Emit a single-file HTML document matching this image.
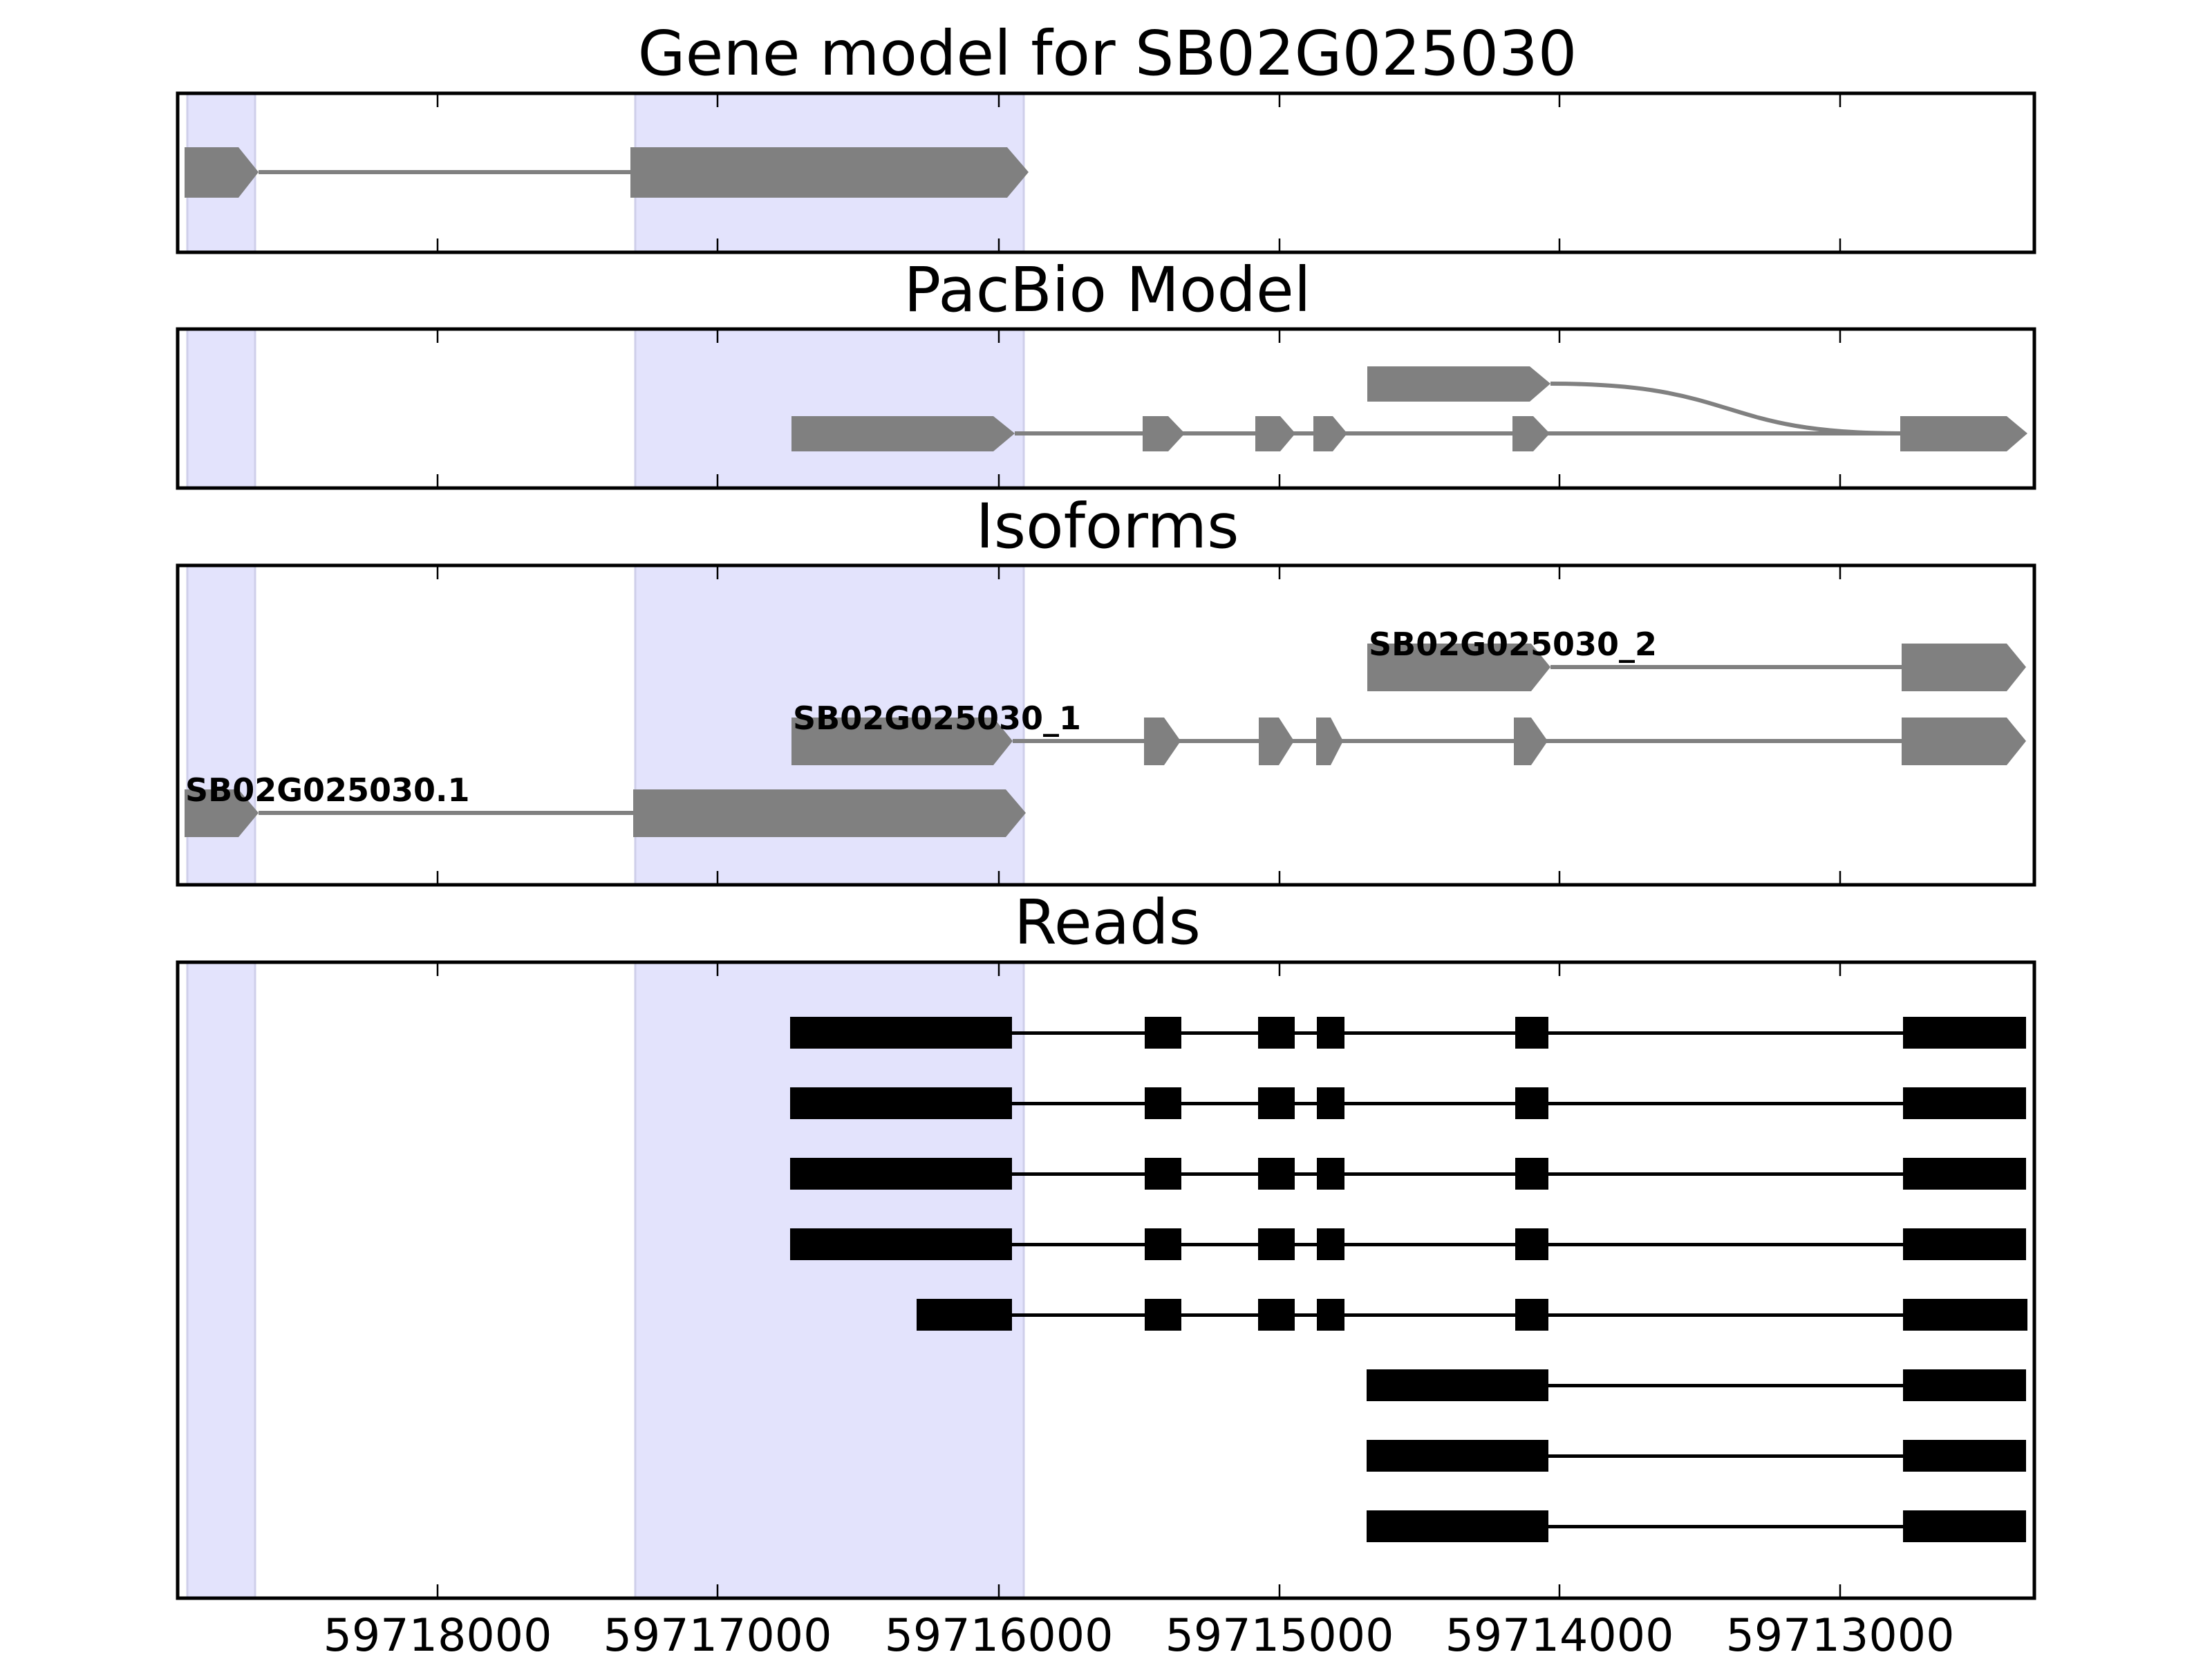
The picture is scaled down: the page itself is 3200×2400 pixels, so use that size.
<!DOCTYPE html>
<html><head><meta charset="utf-8"><style>html,body{margin:0;padding:0;background:#fff}svg{display:block}</style></head>
<body>
<svg width="3200" height="2400" viewBox="0 0 3200 2400" xmlns="http://www.w3.org/2000/svg" font-family="DejaVu Sans, Liberation Sans, sans-serif">
<rect width="3200" height="2400" fill="#fff"/>
<g fill="#e3e3fc" stroke="#cfcfea" stroke-width="3">
<rect x="271" y="135" width="98" height="230"/><rect x="919" y="135" width="562" height="230"/>
<rect x="271" y="476" width="98" height="230"/><rect x="919" y="476" width="562" height="230"/>
<rect x="271" y="818" width="98" height="462"/><rect x="919" y="818" width="562" height="462"/>
<rect x="271" y="1392" width="98" height="920"/><rect x="919" y="1392" width="562" height="920"/>
</g>
<g font-size="89" text-anchor="middle" fill="#000">
<text x="1602" y="108">Gene model for SB02G025030</text>
<text x="1602" y="450">PacBio Model</text>
<text x="1602" y="792">Isoforms</text>
<text x="1602" y="1365">Reads</text>
</g>
<g fill="#808080" stroke="none">
<rect x="374" y="246" width="540" height="6"/>
<polygon points="267,213 345,213 374,249 345,286 267,286"/>
<polygon points="912,213 1457,213 1488,249 1457,286 912,286"/>
</g>
<g fill="#808080">
<rect x="1468" y="624" width="1283" height="6"/>
<polygon points="1145,602 1437,602 1468,627 1437,653 1145,653"/>
<polygon points="1653,602 1690,602 1714,627 1690,653 1653,653"/>
<polygon points="1816,602 1852,602 1874,627 1852,653 1816,653"/>
<polygon points="1900,602 1928,602 1949,627 1928,653 1900,653"/>
<polygon points="2188,602 2218,602 2242,627 2218,653 2188,653"/>
<polygon points="2749,602 2903,602 2933,627 2903,653 2749,653"/>
<polygon points="1978,530 2213,530 2243,555 2213,581 1978,581"/>
</g>
<path d="M2243,555 C2520,555 2480,627 2751,627" fill="none" stroke="#808080" stroke-width="6"/>
<g fill="#808080">
<rect x="2243" y="962" width="510" height="6"/>
<polygon points="1978,931 2215,931 2243,965 2215,1000 1978,1000"/>
<polygon points="2751,931 2903,931 2931,965 2903,1000 2751,1000"/>
<rect x="1465" y="1069" width="1288" height="6"/>
<polygon points="1145,1038 1437,1038 1465,1072 1437,1107 1145,1107"/>
<polygon points="1655,1038 1684,1038 1708,1072 1684,1107 1655,1107"/>
<polygon points="1821,1038 1850,1038 1872,1072 1850,1107 1821,1107"/>
<polygon points="1904,1038 1925,1038 1943,1072 1925,1107 1904,1107"/>
<polygon points="2190,1038 2215,1038 2239,1072 2215,1107 2190,1107"/>
<polygon points="2751,1038 2903,1038 2931,1072 2903,1107 2751,1107"/>
<rect x="374" y="1173" width="544" height="6"/>
<polygon points="267,1142 345,1142 374,1176 345,1211 267,1211"/>
<polygon points="916,1142 1455,1142 1484,1176 1455,1211 916,1211"/>
</g>
<g font-size="46" font-weight="bold" fill="#000">
<text x="1980" y="948">SB02G025030_2</text>
<text x="1147" y="1055">SB02G025030_1</text>
<text x="268" y="1159">SB02G025030.1</text>
</g>
<g fill="#000">
<g id="r1">
<rect x="1464" y="1492" width="1290" height="5"/>
<rect x="1143" y="1471" width="321" height="46"/>
<rect x="1656" y="1471" width="53" height="46"/>
<rect x="1820" y="1471" width="53" height="46"/>
<rect x="1905" y="1471" width="40" height="46"/>
<rect x="2192" y="1471" width="48" height="46"/>
<rect x="2753" y="1471" width="178" height="46"/>
</g>
<use href="#r1" y="102"/><use href="#r1" y="204"/><use href="#r1" y="306"/>
<g transform="translate(0,408)">
<rect x="1464" y="1492" width="1290" height="5"/>
<rect x="1326" y="1471" width="138" height="46"/>
<rect x="1656" y="1471" width="53" height="46"/>
<rect x="1820" y="1471" width="53" height="46"/>
<rect x="1905" y="1471" width="40" height="46"/>
<rect x="2192" y="1471" width="48" height="46"/>
<rect x="2753" y="1471" width="180" height="46"/>
</g>
<g transform="translate(0,510)">
<rect x="2240" y="1492" width="514" height="5"/>
<rect x="1977" y="1471" width="263" height="46"/>
<rect x="2753" y="1471" width="178" height="46"/>
</g>
<g transform="translate(0,612)">
<rect x="2240" y="1492" width="514" height="5"/>
<rect x="1977" y="1471" width="263" height="46"/>
<rect x="2753" y="1471" width="178" height="46"/>
</g>
<g transform="translate(0,714)">
<rect x="2240" y="1492" width="514" height="5"/>
<rect x="1977" y="1471" width="263" height="46"/>
<rect x="2753" y="1471" width="178" height="46"/>
</g>
</g>
<g fill="none" stroke="#000" stroke-width="5">
<rect x="257" y="135" width="2686" height="230"/>
<rect x="257" y="476" width="2686" height="230"/>
<rect x="257" y="818" width="2686" height="462"/>
<rect x="257" y="1392" width="2686" height="920"/>
</g>
<g stroke="#000" stroke-width="2.5">
<path d="M633,135v20M1038,135v20M1445,135v20M1851,135v20M2256,135v20M2662,135v20
M633,365v-20M1038,365v-20M1445,365v-20M1851,365v-20M2256,365v-20M2662,365v-20
M633,476v20M1038,476v20M1445,476v20M1851,476v20M2256,476v20M2662,476v20
M633,706v-20M1038,706v-20M1445,706v-20M1851,706v-20M2256,706v-20M2662,706v-20
M633,818v20M1038,818v20M1445,818v20M1851,818v20M2256,818v20M2662,818v20
M633,1280v-20M1038,1280v-20M1445,1280v-20M1851,1280v-20M2256,1280v-20M2662,1280v-20
M633,1392v20M1038,1392v20M1445,1392v20M1851,1392v20M2256,1392v20M2662,1392v20
M633,2312v-20M1038,2312v-20M1445,2312v-20M1851,2312v-20M2256,2312v-20M2662,2312v-20"/>
</g>
<g font-size="65" text-anchor="middle" fill="#000">
<text x="633" y="2388">59718000</text>
<text x="1038" y="2388">59717000</text>
<text x="1445" y="2388">59716000</text>
<text x="1851" y="2388">59715000</text>
<text x="2256" y="2388">59714000</text>
<text x="2662" y="2388">59713000</text>
</g>
</svg>
</body></html>
